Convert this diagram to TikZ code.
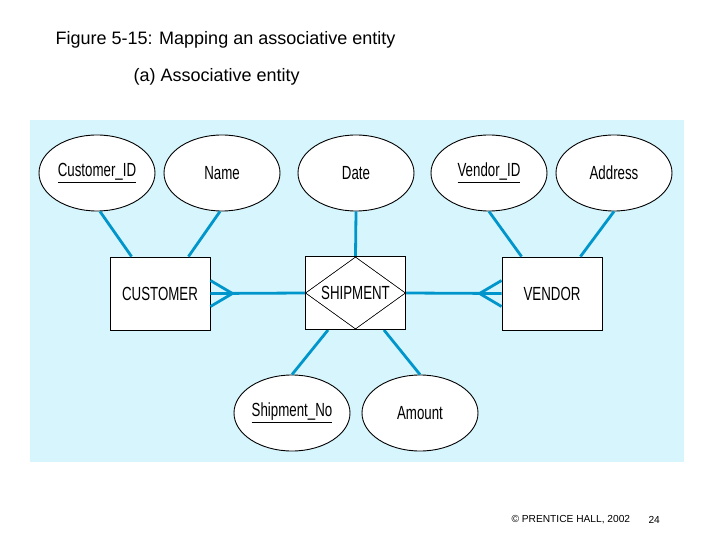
\documentclass[tikz,border=0pt]{standalone}
\usepackage{fontspec}
\setmainfont{Liberation Sans}
\usetikzlibrary{shapes.geometric,calc}
\definecolor{bg}{RGB}{214,245,252}
\definecolor{ln}{RGB}{0,150,204}
\begin{document}
\begin{tikzpicture}[x=1pt,y=-1pt,
  attr/.style={ellipse,draw,line width=0.9pt,fill=white,minimum width=116pt,minimum height=76pt,inner sep=0pt,font=\fontsize{19}{19}\selectfont},
  ent/.style={draw,line width=0.9pt,fill=white,minimum width=100pt,minimum height=73pt,inner sep=0pt,font=\fontsize{19}{19}\selectfont},
  conn/.style={ln,line width=2.8pt}]
\useasboundingbox (0,0) rectangle (720,540);
\node[anchor=west,font=\fontsize{18}{18}\selectfont] (title) at (52,40) {Figure 5-15: Mapping an associative entity};
\node[anchor=west,font=\fontsize{18}{18}\selectfont] (sub) at (130,77) {(a) Associative entity};
\fill[bg] (30,120) rectangle (684,462);
\node[attr] (cid) at (97,173) {\scalebox{0.7}[1]{\underline{Customer\_ID}}};
\node[attr] (name) at (222,173) {\scalebox{0.7}[1]{Name}};
\node[attr] (date) at (356,173) {\scalebox{0.7}[1]{Date}};
\node[attr] (vid) at (489,173) {\scalebox{0.7}[1]{\underline{Vendor\_ID}}};
\node[attr] (addr) at (614,173) {\scalebox{0.7}[1]{Address}};
\node[attr] (sno) at (292,413) {\scalebox{0.7}[1]{\underline{Shipment\_No}}};
\node[attr] (amt) at (420,413) {\scalebox{0.7}[1]{Amount}};
\node[ent] (cust) at (160,293.5) {\scalebox{0.7}[1]{CUSTOMER}};
\node[ent] (ship) at (355.5,293) {};
\node[ent] (vend) at (552,293.5) {\scalebox{0.7}[1]{VENDOR}};
\node[diamond,draw,aspect=1.4,minimum width=100pt,minimum height=72pt,inner sep=0pt,font=\fontsize{19}{19}\selectfont] (dia) at (355.5,293) {\scalebox{0.7}[1]{SHIPMENT}};
\draw[conn] ($(cid.south)+(3,0)$) -- ($(cust.north west)+(22,0)$);
\draw[conn] ($(name.south)+(-2,0)$) -- ($(cust.north east)+(-22,0)$);
\draw[conn] (date.south) -- (ship.north);
\draw[conn] (vid.south) -- ($(vend.north west)+(20,0)$);
\draw[conn] (addr.south) -- ($(vend.north east)+(-22,0)$);
\draw[conn] ($(ship.south west)+(23,0)$) -- (sno.north);
\draw[conn] ($(ship.south east)+(-22,0)$) -- (amt.north);
\coordinate (cf1) at ($(cust.east)+(22,0)$);
\coordinate (cf2) at ($(vend.west)+(-22,0)$);
\draw[conn] (dia.west) -- (cust.east);
\draw[conn] (dia.east) -- (vend.west);
\draw[conn] ($(cust.east)+(0,-13)$) -- (cf1) -- ($(cust.east)+(0,13)$);
\draw[conn] ($(vend.west)+(0,-13)$) -- (cf2) -- ($(vend.west)+(0,13)$);
\node[ent,fill=none] at (ship) {};
\node[diamond,draw,aspect=1.4,minimum width=100pt,minimum height=72pt,inner sep=0pt] at (355.5,293) {};
\node[anchor=west,font=\fontsize{10.2}{10.2}\selectfont] (copy) at (508,520) {© PRENTICE HALL, 2002};
\node[anchor=west,font=\fontsize{10.2}{10.2}\selectfont] (pg) at (645,520) {24};
\end{tikzpicture}
\end{document}
